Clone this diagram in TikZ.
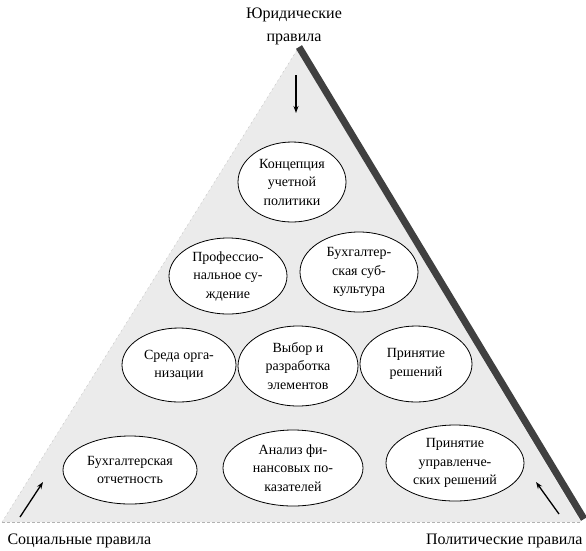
\documentclass[tikz,border=0pt]{standalone}
\usepackage{fontspec}
\setmainfont{Liberation Serif}
\usetikzlibrary{shapes.geometric,arrows.meta}

\tikzset{
  elps/.style={ellipse, draw, thick, fill=white, inner sep=0pt, align=center,
               font=\fontsize{14}{18.5}\selectfont},
  rule/.style={font=\fontsize{16}{23}\selectfont, align=center},
  push/.style={-{Stealth[length=7pt,width=5pt]}, line width=1.3pt}
}

\begin{document}
\begin{tikzpicture}[x=1pt,y=-1pt]
        \useasboundingbox (0,0) rectangle (586,550);

        % Pyramid
        \fill[gray!16] (297,50) -- (2,522) -- (581,522) -- cycle;
        \draw[gray!60, thin, dash pattern=on 3pt off 2pt] (2,522) -- (581,522);
        \draw[gray!45, thin, dash pattern=on 2pt off 3pt] (297,50) -- (2,522);
        \draw[black!75, line width=7pt] (299,47) -- (584,519);

        % Rules
        \node[rule] (jur) at (294,26) {Юридические\\правила};
        \node[rule, anchor=west] (soc) at (4,541) {Социальные правила};
        \node[rule, anchor=east] (pol) at (586,541) {Политические правила};

        % Elements
        \node[elps, minimum width=108pt, minimum height=80pt] (konz) at (292,182) {Концепция\\учетной\\политики};
        \node[elps, minimum width=118pt, minimum height=76pt] (prof) at (228,276) {Профессио-\\нальное су-\\ждение};
        \node[elps, minimum width=118pt, minimum height=80pt] (subk) at (359,272) {Бухгалтер-\\ская суб-\\культура};
        \node[elps, minimum width=114pt, minimum height=74pt] (sreda) at (179,365) {Среда орга-\\низации};
        \node[elps, minimum width=120pt, minimum height=80pt] (vybor) at (298,366) {Выбор и\\разработка\\элементов};
        \node[elps, minimum width=112pt, minimum height=76pt] (resh) at (416,364) {Принятие\\решений};
        \node[elps, minimum width=134pt, minimum height=68pt] (otch) at (130,470) {Бухгалтерская\\отчетность};
        \node[elps, minimum width=140pt, minimum height=76pt] (anal) at (293,468) {Анализ фи-\\нансовых по-\\казателей};
        \node[elps, minimum width=138pt, minimum height=76pt] (upr) at (455,463) {Принятие\\управленче-\\ских решений};

        % Arrows
        \coordinate (jurA) at (296,75);
        \coordinate (jurB) at (296,113);
        \coordinate (socA) at (20,517);
        \coordinate (socB) at (43,482);
        \coordinate (polA) at (559,514);
        \coordinate (polB) at (536,482);
        \draw[push] (jurA) -- (jurB);
        \draw[push] (socA) -- (socB);
        \draw[push] (polA) -- (polB);
\end{tikzpicture}
\end{document}
